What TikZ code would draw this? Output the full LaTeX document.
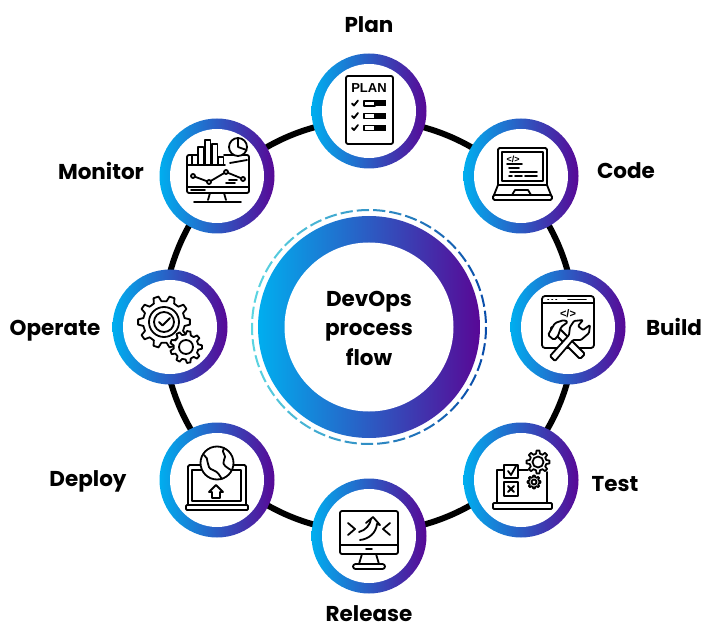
\documentclass[tikz,border=0pt]{standalone}
\usepackage{fontspec}
\setmainfont{Poppins}
\newfontfamily\iconfont{Liberation Sans}
\definecolor{flowleft}{RGB}{0,174,239}
\definecolor{flowmid}{RGB}{50,88,186}
\definecolor{flowright}{RGB}{88,8,150}
\definecolor{dashleft}{RGB}{92,214,226}
\definecolor{dashright}{RGB}{8,76,170}
\tikzset{
  flowshade/.style={circle,inner sep=0pt,outer sep=0pt,left color=flowleft,middle color=flowmid,right color=flowright},
  stepring/.style={flowshade,minimum size=115pt},
  stepdisc/.style={circle,fill=white,inner sep=0pt,minimum size=94pt},
  steplabel/.style={font=\bfseries\fontsize{21.5}{29.5}\selectfont,inner sep=0pt},
  icontext/.style={font=\iconfont\bfseries\fontsize{#1}{#1}\selectfont,inner sep=0pt},
  iconline/.style={line width=1.8pt,line join=round,line cap=round},
}
% gear outline: centre, outer radius, root radius, number of teeth
\newcommand{\gearicon}[5]{
  \scope[shift={(#1,#2)}]
  \pgfmathsetmacro{\tw}{360/#5}
  \draw[fill=white] (-0.3*\tw:#4)
    \foreach \i in {1,...,#5} {
      -- ({(\i-1)*\tw-0.16*\tw}:#3) -- ({(\i-1)*\tw+0.16*\tw}:#3)
      -- ({(\i-1)*\tw+0.3*\tw}:#4) -- ({\i*\tw-0.3*\tw}:#4)
    } -- cycle;
  \endscope
}
\begin{document}
\begin{tikzpicture}[x=1pt,y=-1pt]
  \path[fill=white,use as bounding box] (0,0) rectangle (704,628);
  \node[flowshade,minimum size=222pt] (hub) at (369,327) {};
  \draw[line width=6pt] (369,326) circle (206);
  % dashes round the hub
  \foreach \a in {0,8,...,352} {
    \pgfmathsetmacro{\m}{50*(1+cos(\a))}
    \draw[dashright!\m!dashleft,line width=2pt] (hub.center) ++(\a:117) arc[start angle=\a,delta angle=6,radius=117];
  }
  \node[stepdisc,minimum size=169pt] (hubdisc) at (hub) {};
  \node[steplabel,align=center,text width=120pt] (hubtext) at (369,328) {DevOps\\process\\flow};
  % steps
  \foreach \name/\x/\y/\lx/\ly/\lab in {plan/369/111/369/25/Plan,code/521/176/626/171/Code,build/568/327/674/327/Build,
      test/521/480/615/484/Test,release/369/536/369/614/Release,deploy/217/480/88/481/Deploy,
      operate/170/327/55/331/Operate,monitor/217/176/101/171/Monitor} {
    \node[stepring] (\name) at (\x,\y) {};
    \node[stepdisc] (\name disc) at (\name) {};
    \node[steplabel] (\name label) at (\lx,\ly) {\lab};
  }
  \scope[shift={(plan)},iconline] % Plan
    \draw[rounded corners=2pt] (-23,-35) rectangle (24,33);
    \node[icontext=13] (plan word) at (0,-23) {PLAN};
    \foreach \y in {-7.5,5,17} {
      \draw (-17,\y) -- (-15,\y+2) -- (-11,\y-3);
      \draw (-5,\y-2.5) rectangle (6,\y+2.5);
      \fill (6,\y-3) rectangle (17,\y+3);
    }
  \endscope
  \scope[shift={(code)},iconline] % Code
    \draw[rounded corners=1.5pt] (-23,9) -- (-23,-28) -- (26,-28) -- (26,9);
    \draw (-19,5) rectangle (22,-24);
    \draw (-23,9) -- (-27,19) -- (30,19) -- (26,9) -- cycle;
    \draw[rounded corners=1.5pt] (-28,19) rectangle (31,24);
    \draw (-9,19) -- (-6,14) -- (7,14) -- (10,19);
    \node[icontext=9] (code tag) at (-8,-17) {</>};
    \draw (-14,-12) -- (1,-12) (-12,-8) -- (-2,-8) (-11,-4) -- (16,-4);
    \draw (-12,0) -- (-9,0) (-6,0) -- (1,0) (4,0) -- (16,0);
  \endscope
  \scope[shift={(build)},iconline] % Build
    \draw[rounded corners=3pt] (-26,-31) rectangle (26,21);
    \draw (-26,-24) -- (26,-24);
    \draw (-20,-27.5) -- (-19.5,-27.5) (-16,-27.5) -- (-15.5,-27.5) (-12,-27.5) -- (-11.5,-27.5) (0,-27.5) -- (18,-27.5);
    \node[icontext=11] (build tag) at (0,-13) {</>};
    \draw[fill=white,rounded corners=1.5pt] (-15,-1) -- (-18,2) -- (12,32) -- (17,27) -- (-8,2) -- cycle;
    \draw[fill=white,rounded corners=1.5pt] (-20,8) -- (-13,-4) -- (-4,-7) -- (0,-5) -- (-7,0) -- (-10,9) -- (-14,13) -- cycle;
    \draw[fill=white,rounded corners=1pt] (-18,29) -- (-13,34) -- (5,13) -- (13,13) -- (21,6) -- (22,-2) -- (15,3) -- (10,-1) -- (15,-7) -- (6,-6) -- (2,0) -- (1,8) -- cycle;
  \endscope
  \scope[shift={(test)},iconline] % Test
    \draw (-24,23) -- (-24,-10) -- (-17,-10) (-3,-10) -- (7,-10) (26,-8) -- (26,23);
    \draw[rounded corners=1pt] (-28,23) rectangle (31,29);
    \draw[fill=white] (-17,-15) rectangle (-3,-2);
    \draw (-13,-9) -- (-10,-5) -- (-5,-14);
    \draw[fill=white] (-17,2) rectangle (-3,16);
    \draw (-13,6) -- (-7,12) (-7,6) -- (-13,12);
    \gearicon{17}{-18}{11.5}{8.5}{8}
    \draw (17,-18) circle (5.5);
    \gearicon{13}{2}{6.5}{5}{8}
    \draw (13,2) circle (2.5);
  \endscope
  \scope[shift={(release)},iconline] % Release
    \draw[rounded corners=2pt] (-29,-25) rectangle (29,18);
    \draw (-29,9) -- (29,9) (-3,13) -- (3,13);
    \draw (-21,-13) -- (-14,-7) -- (-21,-1) (21,-13) -- (14,-7) -- (21,-1);
    \draw (-10,-4) .. controls (-3,-6) and (1,-11) .. (2,-17);
    \draw (-9,4) .. controls (0,3) and (7,-3) .. (8,-12);
    \draw (-3,-13) -- (4,-19) -- (11,-11) -- (8,-12);
    \draw (-7,18) -- (-10,28) (7,18) -- (10,28);
    \draw[rounded corners=2.5pt] (-16,28) rectangle (16,33);
  \endscope
  \scope[shift={(deploy)},iconline] % Deploy
    \draw[rounded corners=1.5pt] (-29,25) -- (-29,-15) -- (29,-15) -- (29,25);
    \draw (-25,21) rectangle (24,-10);
    \draw[rounded corners=1pt] (-31,25) rectangle (31,30);
    \draw[fill=white] (0,-17) circle (16.5);
    \draw (-13,-25) .. controls (-7,-22) and (-12,-12) .. (-4,-10) .. controls (2,-8) and (3,-3) .. (5,-1);
    \draw (7,-32) .. controls (3,-27) and (11,-25) .. (7,-20) .. controls (4,-15) and (11,-12) .. (14,-10);
    \draw (-1,5) -- (-8,12) -- (-5,12) -- (-5,18) -- (3,18) -- (3,12) -- (6,12) -- cycle;
  \endscope
  \scope[shift={(operate)},iconline] % Operate
    \gearicon{-6}{-5}{26}{21}{10}
    \draw (-6,-5) circle (15) (-6,-5) circle (10);
    \draw (-11,-5) -- (-7.5,-1.5) -- (0,-9);
    \gearicon{16}{20}{16}{12.5}{9}
    \draw (16,20) circle (7);
  \endscope
  \scope[shift={(monitor)},iconline] % Monitor
    \foreach \bx/\bt in {-25/-21,-19/-29,-12/-36,-5/-32,1/-19} {
      \draw (\bx,-11) -- (\bx,\bt) -- (\bx+5.5,\bt) -- (\bx+5.5,-11);
    }
    \draw[rounded corners=2pt] (-30,-11) -- (-30,-21) -- (-25,-21) (7,-21) -- (32,-21) -- (32,17) -- (-30,17) -- (-30,-11);
    \draw (-30,-11) -- (8,-11);
    \draw (-30,11) -- (32,11) (-26,14) -- (-12,14);
    \draw (-24,0) -- (-8,6) -- (9,-4) -- (26,3);
    \foreach \px/\py in {-24/0,-8/6,9/-4,26/3} {
      \draw[fill=white] (\px,\py) circle (2);
    }
    \draw[fill=white] (21,-29) circle (9);
    \draw (21,-29) -- (21,-38) (21,-29) -- (29.5,-26);
    \draw (13,-13) -- (30,-16);
    \draw (12,4) -- (20,4) (9,7) -- (18,7);
    \draw (-7,17) -- (-9,24) (7,17) -- (9,24);
    \draw (-23,26) -- (24,26);
  \endscope
\end{tikzpicture}
\end{document}
